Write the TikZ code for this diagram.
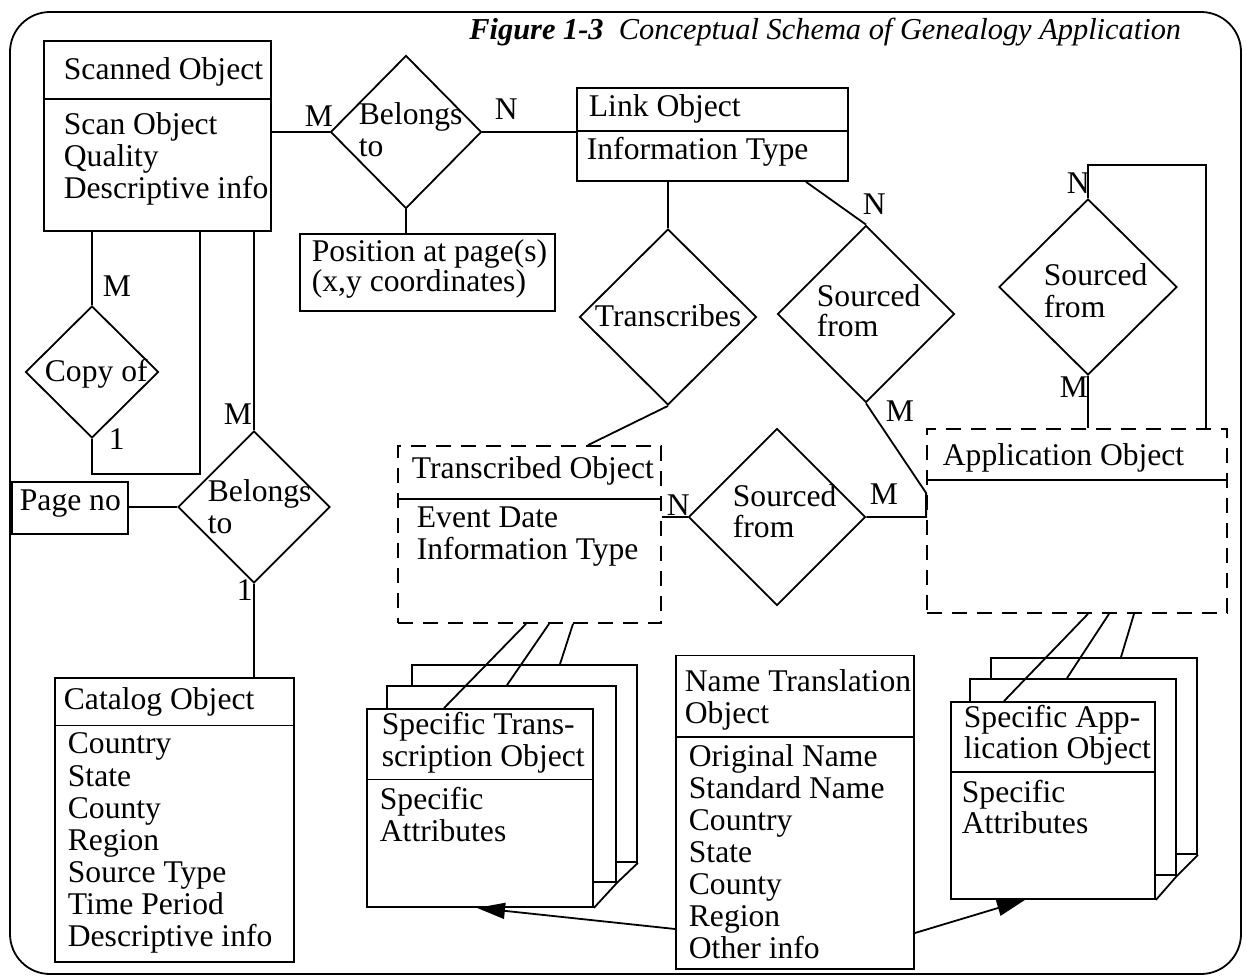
\documentclass[tikz,border=0pt]{standalone}
\usepackage{fontspec}
\setmainfont{Liberation Serif}
\usetikzlibrary{shapes.geometric,arrows.meta,fit,calc}

\newcommand{\erfont}{\fontsize{15.8}{16}\selectfont}
\newcommand{\capfont}{\fontsize{15.2}{16}\selectfont}

\begin{document}
\begin{tikzpicture}[x=0.5pt,y=-0.5pt,line width=0.9pt,
  ebox/.style={draw,inner sep=0pt,fill=white},
  dbox/.style={draw,dash pattern=on 7.5pt off 5pt,inner sep=0pt},
  rel/.style={draw,diamond,inner sep=0pt,fill=white},
  txt/.style={inner sep=0pt,anchor=base west,font=\erfont},
  card/.style={inner sep=0pt,anchor=base west,font=\erfont},
  tip/.style={-{Triangle[length=14pt,width=8pt]}}]

\path[fill=white,use as bounding box] (0,0) rectangle (1247,977);

% outer frame and caption
\draw[rounded corners=20pt] (10,12) rectangle (1241,974);
\node[anchor=base east,inner sep=0pt,font=\capfont] (title) at (1182,40)
  {\textbf{\textit{Figure 1-3}}\hspace{0.5em}\textit{Conceptual Schema of Genealogy Application}};

% ---------- entities ----------
% Scanned Object
\node[ebox,fit={(44,41) (271,231)}] (scan) {};
\draw (scan.west |- 0,99) -- (scan.east |- 0,99);
\node[txt] (scan-t) at (63,80) {Scanned Object};
\foreach \t [count=\i from 0] in {Scan Object,Quality,Descriptive info}
  \node[txt] (scan-\i) at (63,135+32*\i) {\t};

% Position at page(s)
\node[ebox,fit={(300,234) (555,311)}] (pos) {};
\node[txt] (pos-0) at (311,262) {Position at page(s)};
\node[txt] (pos-1) at (311,292) {(x,y coordinates)};

% Link Object
\node[ebox,fit={(577,88) (848,181)}] (link) {};
\draw (link.west |- 0,131) -- (link.east |- 0,131);
\node[txt] (link-t) at (588,117) {Link Object};
\node[txt] (link-0) at (586,160) {Information Type};

% Page no
\node[ebox,fit={(12,482) (128,534)}] (page) {};
\node[txt] (page-t) at (19,511) {Page no};

% Catalog Object
\node[ebox,fit={(55,678) (294,962)}] (cat) {};
\draw (cat.west |- 0,725.5) -- (cat.east |- 0,725.5);
\node[txt] (cat-t) at (63,709.5) {Catalog Object};
\foreach \t [count=\i from 0] in {Country,State,County,Region,Source Type,Time Period,Descriptive info}
  \node[txt] (cat-\i) at (67,754+32*\i) {\t};

% Transcribed Object (dashed)
\node[dbox,fit={(398,446) (661,623)}] (tobj) {};
\draw (tobj.west |- 0,499) -- (tobj.east |- 0,499);
\node[txt] (tobj-t) at (411,479) {Transcribed Object};
\node[txt] (tobj-0) at (416,528) {Event Date};
\node[txt] (tobj-1) at (416,560) {Information Type};

% Application Object (dashed)
\node[dbox,fit={(927,429) (1227,613)}] (app) {};
\draw (app.west |- 0,480) -- (app.east |- 0,480);
\node[txt] (app-t) at (942,466) {Application Object};

% Name Translation Object
\node[ebox,fit={(676,655.5) (914,969)}] (name) {};
\draw (name.west |- 0,737) -- (name.east |- 0,737);
\node[txt] (name-t0) at (684,692) {Name Translation};
\node[txt] (name-t1) at (684,724) {Object};
\foreach \t [count=\i from 0] in {Original Name,Standard Name,Country,State,County,Region,Other info}
  \node[txt] (name-\i) at (688,766+32*\i) {\t};

% Specific Transcription Object (stack of three)
\node[ebox,fit={(412,665) (637,862)}] (tback) {};
\node[ebox,fit={(387,686) (616,882)}] (tmid) {};
\node[ebox,fit={(367,709) (593,907)}] (tfront) {};
\draw (tfront.west |- 0,779.5) -- (tfront.east |- 0,779.5);
\draw (tfront.south east) -- (tmid.south east) -- (tback.south east);
\node[txt] (tfront-t0) at (381,734.4) {Specific Trans-};
\node[txt] (tfront-t1) at (381,766.4) {scription Object};
\node[txt] (tfront-0) at (379,809) {Specific};
\node[txt] (tfront-1) at (379,841) {Attributes};

% Specific Application Object (stack of three)
\node[ebox,fit={(991,658) (1197,854)}] (aback) {};
\node[ebox,fit={(970,679) (1176,875)}] (amid) {};
\node[ebox,fit={(951,702) (1155,899)}] (afront) {};
\draw (afront.west |- 0,772) -- (afront.east |- 0,772);
\draw (afront.south east) -- (amid.south east) -- (aback.south east);
\node[txt] (afront-t0) at (963,727) {Specific App-};
\node[txt] (afront-t1) at (963,758) {lication Object};
\node[txt] (afront-0) at (961,802) {Specific};
\node[txt] (afront-1) at (961,833) {Attributes};

% ---------- relationships ----------
\node[rel,minimum width=75.5pt,minimum height=76.5pt] (bel1) at (406,132) {};
\node[txt] at (358,125) {Belongs};
\node[txt] at (358,157) {to};

\node[rel,minimum width=66.5pt,minimum height=66pt] (copy) at (92,372) {};
\node[txt] at (44,382) {Copy of};

\node[rel,minimum width=76pt,minimum height=76pt] (bel2) at (254,507) {};
\node[txt] at (207,502) {Belongs};
\node[txt] at (207,534) {to};

\node[rel,minimum width=88.5pt,minimum height=88pt] (trs) at (668,317) {};
\node[txt] at (594,327) {Transcribes};

\node[rel,minimum width=88.5pt,minimum height=88.5pt] (src1) at (866,314) {};
\node[txt] at (816,307) {Sourced};
\node[txt] at (816,337) {from};

\node[rel,minimum width=89pt,minimum height=88pt] (src2) at (1088,287) {};
\node[txt] at (1043,286) {Sourced};
\node[txt] at (1043,318) {from};

\node[rel,minimum width=88.5pt,minimum height=88.5pt] (src3) at (777,517) {};
\node[txt] at (732,507) {Sourced};
\node[txt] at (732,538) {from};

% ---------- connectors ----------
\draw (scan.east |- bel1.west) -- (bel1.west);
\draw (bel1.east) -- (bel1.east -| link.west);
\draw (bel1.south) -- (bel1.south |- pos.north);

\coordinate (cloop) at (200,474);
\draw (copy.north) -- (copy.north |- scan.south);
\draw (copy.south) |- (cloop) -- (cloop |- scan.south);

\draw (bel2.north) -- (bel2.north |- scan.south);
\draw (page.east |- bel2.west) -- (bel2.west);
\draw (bel2.south) -- (bel2.south |- cat.north);

\draw (trs.north) -- (trs.north |- link.south);
\draw (trs.south) -- (tobj.north -| 588,0);

\draw (link.south -| 806,0) -- (src1.north);
\coordinate (m1) at (app.west |- 0,493);
\draw (src1.south) -- (m1) -- (app.west |- src3.east) -- (src3.east);
\draw (tobj.east |- src3.west) -- (src3.west);

\coordinate (loop2) at (1206,165);
\draw (src2.north) |- (loop2) -- (loop2 |- app.north);
\draw (src2.south) -- (src2.south |- app.north);

% subtype links
\draw (tobj.south -| 526,0) -- (tfront.north -| 444,0);
\draw (tobj.south -| 549,0) -- (tmid.north -| 507,0);
\draw (tobj.south -| 573,0) -- (tback.north -| 560,0);
\draw (app.south -| 1088,0) -- (afront.north -| 1004,0);
\draw (app.south -| 1109,0) -- (amid.north -| 1067,0);
\draw (app.south -| 1134,0) -- (aback.north -| 1121,0);

% name translation references
\draw[tip] (name.west |- 0,929) -- (tfront.south -| 477,0);
\draw[tip] (name.east |- 0,933) -- (afront.south -| 1025,0);

% ---------- cardinalities ----------
\node[card] at (304,127) {M};
\node[card] at (494,120) {N};
\node[card] at (102,297) {M};
\node[card] at (108,450) {1};
\node[card] at (223,425) {M};
\node[card] at (236,601) {1};
\node[card] at (862,215) {N};
\node[card] at (885,422) {M};
\node[card] at (1066,194) {N};
\node[card] at (1059,398) {M};
\node[card] at (666,516) {N};
\node[card] at (869,505) {M};
\end{tikzpicture}
\end{document}
